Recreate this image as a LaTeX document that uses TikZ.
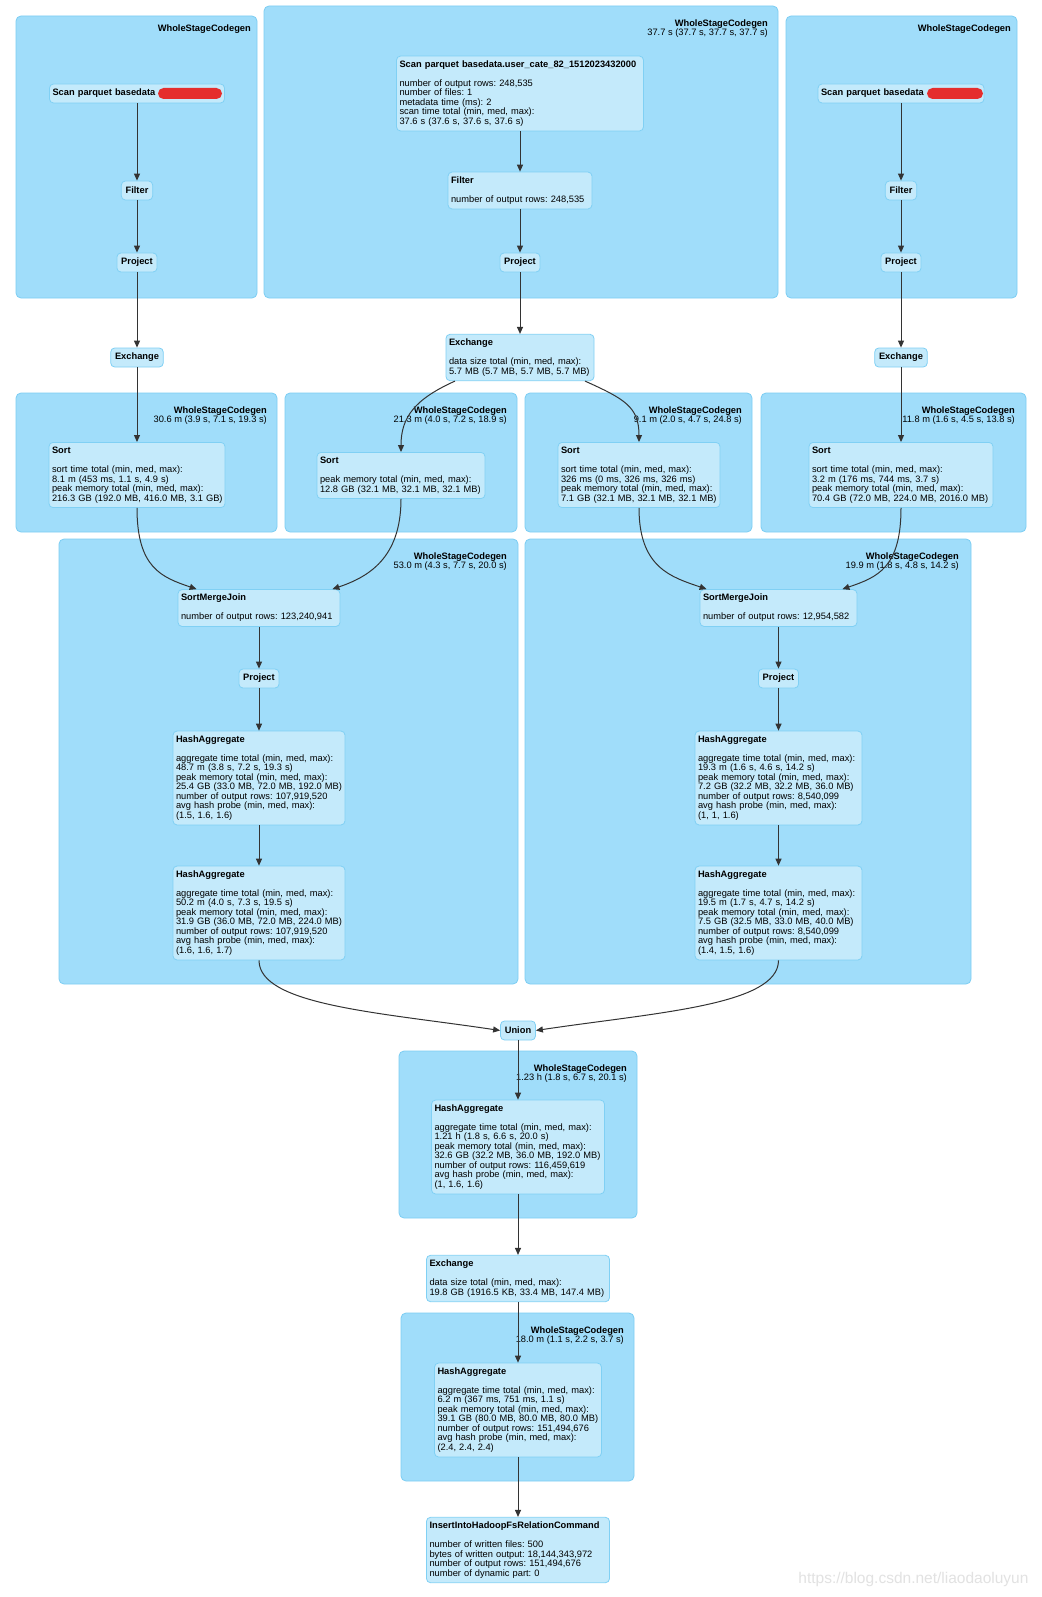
\documentclass[tikz,border=0pt]{standalone}
\usepackage{fontspec}
\setmainfont{Liberation Sans}
\usetikzlibrary{arrows.meta}
\definecolor{stagefill}{HTML}{A0DDFA}
\definecolor{stageline}{HTML}{7CCDF3}
\definecolor{opfill}{HTML}{C4EAFB}
\definecolor{opline}{HTML}{80D0F4}
\definecolor{edgecol}{HTML}{333333}
\definecolor{blotred}{HTML}{E52D2D}
\definecolor{wmgray}{HTML}{E2E2E2}
\frenchspacing
\begin{document}
\begin{tikzpicture}[x=1pt,y=-1pt,
  stage/.style={draw=stageline,fill=stagefill,rounded corners=5pt,line width=0.8pt},
  stagelabel/.style={anchor=north east,inner sep=0pt,align=right,font=\fontsize{9.3}{9.5}\selectfont},
  op/.style={draw=opline,fill=opfill,rounded corners=4pt,line width=0.8pt,inner xsep=3pt,inner ysep=4.6pt,
    minimum height=19pt,align=left,font=\fontsize{9.3}{9.5}\selectfont},
  smallop/.style={op,inner xsep=4.3pt,font=\fontsize{9.3}{9.5}\selectfont\bfseries},
  flow/.style={draw=edgecol,line width=1pt,-{Triangle[length=7pt,width=6pt]}},
  blot/.style={fill=blotred,rounded corners=5.5pt}]
 % canvas
  \fill[white] (0,0) rectangle (1041,1597);
  \useasboundingbox (0,0) rectangle (1041,1597);

 % stages
  \foreach \xa/\xb/\lx [count=\i] in {16/257/251, 786/1017/1011} {
    \draw[stage] (\xa,16) rectangle (\xb,298);
    \node[stagelabel] (topstage\i) at (\lx,24.4) {\textbf{WholeStageCodegen}};
  }
  \foreach \xa/\ya/\xb/\yb/\lx/\tm [count=\i] in {
      264/6/778/298/768/{37.7 s (37.7 s, 37.7 s, 37.7 s)},
      16/393/277/532/267/{30.6 m (3.9 s, 7.1 s, 19.3 s)},
      285/393/517/532/507/{21.3 m (4.0 s, 7.2 s, 18.9 s)},
      525/393/752/532/742/{9.1 m (2.0 s, 4.7 s, 24.8 s)},
      761/393/1026/532/1015/{11.8 m (1.6 s, 4.5 s, 13.8 s)},
      59/539/518/984/507/{53.0 m (4.3 s, 7.7 s, 20.0 s)},
      525/539/971/984/959/{19.9 m (1.8 s, 4.8 s, 14.2 s)},
      399/1051/637/1218/627/{1.23 h (1.8 s, 6.7 s, 20.1 s)},
      401/1313/634/1481/624/{18.0 m (1.1 s, 2.2 s, 3.7 s)}} {
    \draw[stage] (\xa,\ya) rectangle (\xb,\yb);
    \node[stagelabel] (stage\i) at (\lx,\ya+13.4) {\textbf{WholeStageCodegen}\\\tm};
  }

 % scans
  \node[op,text width=169pt] (scanL) at (137,93.5) {\textbf{Scan parquet basedata}};
  \node[op,text width=160pt] (scanR) at (901,93.5) {\textbf{Scan parquet basedata}};
  \node[op,text width=241pt] (scanM) at (520,93.5) {\textbf{Scan parquet basedata.user\_cate\_82\_1512023432000}\\[9.5pt]
    number of output rows: 248,535\\ number of files: 1\\ metadata time (ms): 2\\
    scan time total (min, med, max):\\ 37.6 s (37.6 s, 37.6 s, 37.6 s)};
  \fill[blot] (158,88) rectangle (222,99);
  \fill[blot] (927,88) rectangle (983,99);

  \foreach \x/\s in {137/L, 901/R} {
    \node[smallop] (filter\s) at (\x,190.5) {Filter};
    \node[smallop] (project\s) at (\x,262.5) {Project};
    \node[smallop] (exch\s) at (\x,357.5) {Exchange};
  }
  \node[op,text width=138pt] (filterM) at (520,190.5) {\textbf{Filter}\\[9.5pt] number of output rows: 248,535};
  \node[smallop] (projectM) at (520,262.5) {Project};
  \node[op,text width=142pt] (exchM) at (520,357.5) {\textbf{Exchange}\\[9.5pt]
    data size total (min, med, max):\\ 5.7 MB (5.7 MB, 5.7 MB, 5.7 MB)};

 % sorts
  \node[op,text width=170pt] (sort1) at (137,475) {\textbf{Sort}\\[9.5pt]
    sort time total (min, med, max):\\ 8.1 m (453 ms, 1.1 s, 4.9 s)\\
    peak memory total (min, med, max):\\ \mbox{216.3 GB (192.0 MB, 416.0 MB, 3.1 GB)}};
  \node[op,text width=162pt] (sort2) at (401,475.5) {\textbf{Sort}\\[9.5pt]
    peak memory total (min, med, max):\\ 12.8 GB (32.1 MB, 32.1 MB, 32.1 MB)};
  \node[op,text width=156pt] (sort3) at (639,475) {\textbf{Sort}\\[9.5pt]
    sort time total (min, med, max):\\ 326 ms (0 ms, 326 ms, 326 ms)\\
    peak memory total (min, med, max):\\ 7.1 GB (32.1 MB, 32.1 MB, 32.1 MB)};
  \node[op,text width=178pt] (sort4) at (901,475) {\textbf{Sort}\\[9.5pt]
    sort time total (min, med, max):\\ 3.2 m (176 ms, 744 ms, 3.7 s)\\
    peak memory total (min, med, max):\\ 70.4 GB (72.0 MB, 224.0 MB, 2016.0 MB)};

 % joins
  \node[op,text width=156pt] (smj1) at (259,608) {\textbf{SortMergeJoin}\\[9.5pt] number of output rows: 123,240,941};
  \node[op,text width=151pt] (smj2) at (778.5,608) {\textbf{SortMergeJoin}\\[9.5pt] number of output rows: 12,954,582};
  \node[smallop] (proj1) at (259,678.5) {Project};
  \node[smallop] (proj2) at (778.5,678.5) {Project};

 % aggregates
  \node[op,text width=166pt] (ha1) at (259,778) {\textbf{HashAggregate}\\[9.5pt]
    aggregate time total (min, med, max):\\ 48.7 m (3.8 s, 7.2 s, 19.3 s)\\
    peak memory total (min, med, max):\\ 25.4 GB (33.0 MB, 72.0 MB, 192.0 MB)\\
    number of output rows: 107,919,520\\ avg hash probe (min, med, max):\\ (1.5, 1.6, 1.6)};
  \node[op,text width=166pt] (ha2) at (259,913) {\textbf{HashAggregate}\\[9.5pt]
    aggregate time total (min, med, max):\\ 50.2 m (4.0 s, 7.3 s, 19.5 s)\\
    peak memory total (min, med, max):\\ 31.9 GB (36.0 MB, 72.0 MB, 224.0 MB)\\
    number of output rows: 107,919,520\\ avg hash probe (min, med, max):\\ (1.6, 1.6, 1.7)};
  \node[op,text width=161pt] (ha3) at (778.5,778) {\textbf{HashAggregate}\\[9.5pt]
    aggregate time total (min, med, max):\\ 19.3 m (1.6 s, 4.6 s, 14.2 s)\\
    peak memory total (min, med, max):\\ 7.2 GB (32.2 MB, 32.2 MB, 36.0 MB)\\
    number of output rows: 8,540,099\\ avg hash probe (min, med, max):\\ (1, 1, 1.6)};
  \node[op,text width=161pt] (ha4) at (778.5,913) {\textbf{HashAggregate}\\[9.5pt]
    aggregate time total (min, med, max):\\ 19.5 m (1.7 s, 4.7 s, 14.2 s)\\
    peak memory total (min, med, max):\\ 7.5 GB (32.5 MB, 33.0 MB, 40.0 MB)\\
    number of output rows: 8,540,099\\ avg hash probe (min, med, max):\\ (1.4, 1.5, 1.6)};

  \node[smallop] (union) at (518,1030.5) {Union};
  \node[op,text width=167pt] (ha5) at (518,1147) {\textbf{HashAggregate}\\[9.5pt]
    aggregate time total (min, med, max):\\ 1.21 h (1.8 s, 6.6 s, 20.0 s)\\
    peak memory total (min, med, max):\\ 32.6 GB (32.2 MB, 36.0 MB, 192.0 MB)\\
    number of output rows: 116,459,619\\ avg hash probe (min, med, max):\\ (1, 1.6, 1.6)};
  \node[op,text width=177pt] (exch3) at (518,1278.5) {\textbf{Exchange}\\[9.5pt]
    data size total (min, med, max):\\ 19.8 GB (1916.5 KB, 33.4 MB, 147.4 MB)};
  \node[op,text width=161pt] (ha6) at (518,1410) {\textbf{HashAggregate}\\[9.5pt]
    aggregate time total (min, med, max):\\ 6.2 m (367 ms, 751 ms, 1.1 s)\\
    peak memory total (min, med, max):\\ 39.1 GB (80.0 MB, 80.0 MB, 80.0 MB)\\
    number of output rows: 151,494,676\\ avg hash probe (min, med, max):\\ (2.4, 2.4, 2.4)};
  \node[op,text width=177pt] (insert) at (518,1550) {\textbf{InsertIntoHadoopFsRelationCommand}\\[9.5pt]
    number of written files: 500\\ bytes of written output: 18,144,343,972\\
    number of output rows: 151,494,676\\ number of dynamic part: 0};

 % edges
  \foreach \s in {L,R} {
    \draw[flow] (scan\s) -- (filter\s);
    \draw[flow] (filter\s) -- (project\s);
    \draw[flow] (project\s) -- (exch\s);
  }
  \draw[flow] (scanM) -- (filterM);
  \draw[flow] (filterM) -- (projectM);
  \draw[flow] (projectM) -- (exchM);
  \draw[flow] (exchL) -- (sort1);
  \draw[flow] (exchR) -- (sort4);
  \draw[flow] ([xshift=-65pt]exchM.south) .. controls +(-40,18) and +(0,-35) .. (sort2.north);
  \draw[flow] ([xshift=65pt]exchM.south) .. controls +(40,18) and +(0,-35) .. (sort3.north);

  \draw[flow] (sort1.south) .. controls +(0,60) and +(-35,-12) .. ([xshift=19pt]smj1.north west);
  \draw[flow] (sort2.south) .. controls +(0,60) and +(35,-12) .. ([xshift=-8pt]smj1.north east);
  \draw[flow] (sort3.south) .. controls +(0,60) and +(-35,-12) .. ([xshift=7pt]smj2.north west);
  \draw[flow] (sort4.south) .. controls +(0,60) and +(35,-12) .. ([xshift=-15pt]smj2.north east);

  \draw[flow] (smj1) -- (proj1);
  \draw[flow] (proj1) -- (ha1);
  \draw[flow] (ha1) -- (ha2);
  \draw[flow] (smj2) -- (proj2);
  \draw[flow] (proj2) -- (ha3);
  \draw[flow] (ha3) -- (ha4);

  \draw[flow] (ha2.south) .. controls +(0,45) and +(-120,-18) .. (union.west);
  \draw[flow] (ha4.south) .. controls +(0,45) and +(120,-18) .. (union.east);
  \draw[flow] (union) -- (ha5);
  \draw[flow] (ha5) -- (exch3);
  \draw[flow] (exch3) -- (ha6);
  \draw[flow] (ha6) -- (insert);

  %\node at (520,1590) {watermark};
  \node[anchor=east,text=wmgray,font=\fontsize{15.5}{16}\selectfont] (wm) at (1032,1579) {https://blog.csdn.net/liaodaoluyun};
\end{tikzpicture}
\end{document}
